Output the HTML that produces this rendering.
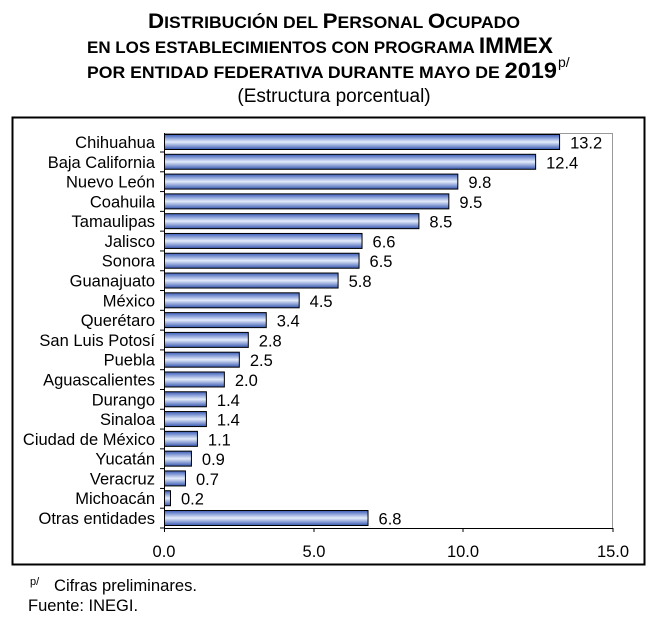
<!DOCTYPE html>
<html><head><meta charset="utf-8"><style>
body{margin:0;width:659px;height:622px;background:#fff;font-family:"Liberation Sans",sans-serif;overflow:hidden}
svg text{font-family:"Liberation Sans",sans-serif}
</style></head><body>
<svg width="659" height="622" viewBox="0 0 659 622" xmlns="http://www.w3.org/2000/svg">
<defs><linearGradient id="g" x1="0" y1="0" x2="0" y2="1">
<stop offset="0" stop-color="#3a5cb8"/><stop offset="0.5" stop-color="#e4ecfb"/><stop offset="1" stop-color="#3556b0"/></linearGradient></defs>
<g font-weight="bold" fill="#000">
<text x="148" y="28" font-size="21" textLength="372" lengthAdjust="spacingAndGlyphs">D<tspan font-size="16.5">ISTRIBUCIÓN DEL </tspan>P<tspan font-size="16.5">ERSONAL </tspan>O<tspan font-size="16.5">CUPADO</tspan></text>
<text x="87" y="53" font-size="16.5" textLength="466" lengthAdjust="spacingAndGlyphs">EN LOS ESTABLECIMIENTOS CON PROGRAMA <tspan font-size="22">IMMEX</tspan></text>
<text x="87" y="78" font-size="16.5" textLength="470" lengthAdjust="spacingAndGlyphs">POR ENTIDAD FEDERATIVA DURANTE MAYO DE <tspan font-size="22">2019</tspan></text>
<text x="558" y="67" font-size="14" font-weight="normal">p/</text>
</g>
<text x="334" y="102" font-size="19" text-anchor="middle">(Estructura porcentual)</text>
<rect x="12.5" y="117.5" width="632" height="447" fill="none" stroke="#000" stroke-width="2"/>
<polyline points="164,133.5 612.5,133.5 612.5,528" fill="none" stroke="#999" stroke-width="1"/>
<g id="bars" font-size="16.5"></g>
<line x1="164.5" y1="133" x2="164.5" y2="532" stroke="#000"/>
<line x1="164" y1="528.5" x2="613" y2="528.5" stroke="#000"/>
<g stroke="#000"><line x1="314" y1="528" x2="314" y2="532"/><line x1="463" y1="528" x2="463" y2="532"/><line x1="613" y1="528" x2="613" y2="532"/></g>
<g font-size="16.5" text-anchor="middle"><text x="164" y="557">0.0</text><text x="314" y="557">5.0</text><text x="463" y="557">10.0</text><text x="613" y="557">15.0</text></g>
<text x="30" y="585" font-size="11">p/</text><text x="54" y="591" font-size="16.5" textLength="143" lengthAdjust="spacingAndGlyphs">Cifras preliminares.</text>
<text x="28" y="611" font-size="16.5">Fuente: INEGI.</text>
</svg>
<script>
var d=[["Chihuahua",13.2],["Baja California",12.4],["Nuevo León",9.8],["Coahuila",9.5],["Tamaulipas",8.5],["Jalisco",6.6],["Sonora",6.5],["Guanajuato",5.8],["México",4.5],["Querétaro",3.4],["San Luis Potosí",2.8],["Puebla",2.5],["Aguascalientes",2.0],["Durango",1.4],["Sinaloa",1.4],["Ciudad de México",1.1],["Yucatán",0.9],["Veracruz",0.7],["Michoacán",0.2],["Otras entidades",6.8]];
var g=document.getElementById("bars"),s="";
d.forEach(function(r,i){var cy=142+i*19.79,w=r[1]*29.93;
s+='<rect x="164.5" y="'+(cy-7.5)+'" width="'+w+'" height="15" fill="url(#g)" stroke="#000" stroke-width="1"/>';
s+='<line x1="160" x2="164" y1="'+(cy+10)+'" y2="'+(cy+10)+'" stroke="#000"/>';
s+='<text x="155" y="'+(cy+6)+'" text-anchor="end">'+r[0]+'</text>';
s+='<text x="'+(164+w+11)+'" y="'+(cy+6.5)+'">'+r[1].toFixed(1)+'</text>';});
g.innerHTML=s;
</script>
</body></html>
